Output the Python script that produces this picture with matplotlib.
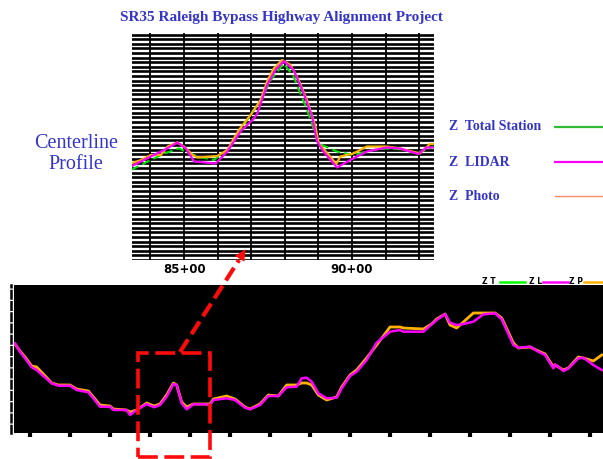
import matplotlib
matplotlib.use("Agg")
import matplotlib.pyplot as plt
from matplotlib.lines import Line2D
from matplotlib.patches import Rectangle, FancyArrowPatch
import matplotlib.transforms as mtransforms
import numpy as np

W, H = 603, 459

BLUE = "#3535c8"
GREEN = "#00dd00"
MAG = "#ff00ff"
ORANGE = "#ffb300"
SALMON = "#ff8c69"
RED = "#ff0a0a"

# --- detail profile (top chart), station in ft, elevation in ft -----------
top_st_lidar = [8342, 8401, 8441, 8480, 8505, 8530, 8594, 8629, 8668, 8708,
                8718, 8747, 8772, 8797, 8826, 8856, 8881, 8896, 8915, 8955,
                8995, 9044, 9103, 9143, 9197, 9222, 9242]
top_z_lidar = [318.7, 320.7, 322.0, 323.5, 322.3, 319.7, 319.3, 321.7, 325.7,
               328.3, 329.3, 335.0, 338.0, 339.8, 338.0, 333.3, 328.7, 323.7,
               321.7, 318.5, 320.0, 321.7, 322.5, 322.3, 321.2, 322.5, 322.5]

top_st_photo = [8342, 8372, 8401, 8431, 8451, 8480, 8500, 8525, 8540, 8599,
                8629, 8663, 8698, 8728, 8747, 8767, 8792, 8817, 8841, 8866,
                8891, 8901, 8935, 8953, 8965, 9004, 9044, 9103, 9143, 9202,
                9232, 9242]
top_z_photo = [319.3, 320.0, 321.0, 321.0, 322.7, 323.5, 322.7, 321.0, 320.5,
               320.8, 322.0, 326.0, 329.0, 332.0, 335.7, 338.3, 340.0, 339.0,
               336.0, 332.0, 326.7, 323.3, 320.7, 319.2, 320.7, 321.3, 322.7,
               322.7, 322.3, 321.3, 323.2, 323.2]

top_st_ts = [8342, 8401, 8441, 8485, 8540, 8589, 8629, 8668, 8728, 8758,
             8797, 8826, 8866, 8901, 8955, 9004, 9063, 9103, 9153, 9192, 9242]
top_z_ts = [318.0, 320.0, 321.3, 322.3, 320.7, 320.0, 322.0, 326.0, 332.0,
            336.0, 339.3, 336.7, 330.0, 323.3, 321.7, 321.0, 322.0, 322.3,
            322.1, 321.3, 322.7]

top_ticks = [8500, 9000]
top_ticklabels = ["85+00", "90+00"]

# --- full alignment profile (bottom chart) ---------------------------------
bot_st = [6812, 6875, 6938, 7021, 7083, 7167, 7271, 7354, 7500, 7583,
          7729, 7792, 7875, 8000, 8042, 8208, 8250, 8333, 8458, 8550,
          8625, 8708, 8792, 8833, 8896, 8958, 9042, 9188, 9250, 9292,
          9458, 9562, 9688, 9750, 9875, 9979, 10104, 10208, 10333, 10396,
          10458, 10521, 10604, 10708, 10833, 10896, 11000, 11083, 11208, 11333,
          11500, 11625, 11667, 11917, 12021, 12083, 12188, 12250, 12333, 12417,
          12542, 12667, 12813, 12896, 13042, 13104, 13250, 13354, 13438, 13542,
          13563, 13667, 13729, 13854, 13917, 14042, 14146]
bot_z_lidar = [379.7, 371.3, 364.7, 355.7, 353, 347, 339.7, 337.3, 337.3, 333,
               330.7, 324.7, 316.3, 316.3, 313, 313, 308, 313, 319, 315.7,
               318, 326.3, 339, 338, 319.7, 313.7, 318.7, 318.7, 318, 323,
               324.7, 323, 315.3, 313.7, 318, 327, 327, 335.7, 336.3, 344.7,
               345.3, 341.3, 329.7, 324.7, 325.3, 334.7, 347, 351.3, 363, 380.3,
               391.3, 393, 391.3, 391.3, 398.7, 403, 409, 400.3, 398, 399,
               401.3, 408.7, 409.7, 403.7, 378, 375.3, 376.3, 371.3, 368, 354.7,
               358.7, 352, 354.7, 364.7, 365.3, 358, 353]
bot_z_photo = [379, 372, 366, 357, 356, 349, 340, 338, 338, 334,
               332, 326, 318, 317, 314, 313, 311, 313, 320, 317,
               319, 328, 340, 338, 321, 316, 319, 319, 319, 324,
               327, 324, 316, 314, 319, 328, 327, 338, 338, 340,
               340, 338, 328, 323, 326, 336, 348, 353, 365, 378,
               396, 396, 395, 394, 399, 404, 409, 398, 395, 401,
               410, 410, 410, 405, 380, 375, 376, 372, 369, 356,
               358, 353, 355, 366, 365, 362, 368]
bot_ticks = list(range(7000, 14001, 500))

legend_names = ["Z  Total Station", "Z  LIDAR", "Z  Photo"]


def fx(px):
    return px / W


def fy(py):
    return 1 - py / H


fig = plt.figure(figsize=(W / 100, H / 100), dpi=100)
fig.patch.set_facecolor("white")

# --- top chart --------------------------------------------------------------
ax = fig.add_axes([fx(132), fy(260), fx(434) - fx(132), fy(33) - fy(260)])
ax.set_xlim(8345, 9244)
ax.set_ylim(300, 345.4)
for y in np.arange(300, 345.5, 0.92):
    ax.axhline(y, color="black", lw=1.9, zorder=1)
for x in range(8400, 9201, 100):
    ax.axvline(x, color="black", lw=1.3, zorder=1)
ax.plot(top_st_ts, top_z_ts, color=GREEN, lw=1.5, ls=(0, (4, 2)), zorder=3)
ax.plot(top_st_photo, top_z_photo, color=ORANGE, lw=1.6, zorder=4)
ax.plot(top_st_lidar, top_z_lidar, color=MAG, lw=1.6, zorder=5)
for s in ax.spines.values():
    s.set_visible(False)
ax.set_yticks([])
ax.set_xticks(top_ticks)
ax.set_xticklabels(top_ticklabels, fontsize=8.5, fontweight="bold")
ax.tick_params(axis="x", length=0, pad=2)

# --- bottom chart -----------------------------------------------------------
bx = fig.add_axes([fx(14), fy(433), 1 - fx(14), fy(285) - fy(433)])
bx.set_facecolor("black")
bx.set_xlim(6800, 14162)
bx.set_ylim(290, 438)
bx.plot(bot_st, bot_z_photo, color=ORANGE, lw=2.0, zorder=3)
bx.plot(bot_st, bot_z_lidar, color=MAG, lw=1.8, zorder=4)
for k in ["top", "right", "bottom"]:
    bx.spines[k].set_visible(False)
bx.spines["left"].set_position(("outward", 2))
bx.spines["left"].set_linestyle((0, (3, 1.5)))
bx.spines["left"].set_linewidth(1.8)
bx.set_yticks([])
bx.set_xticks(bot_ticks)
bx.set_xticklabels([])
bx.tick_params(axis="x", length=3, width=3, color="black", direction="out")

# dashed zoom box around the detail range
trans = mtransforms.blended_transform_factory(bx.transData, bx.transAxes)
x0, x1 = ax.get_xlim()
bx.add_patch(Rectangle((x0, -0.162), x1 - x0, 0.702, transform=trans,
                       fill=False, edgecolor=RED, lw=2.6,
                       ls=(0, (5.5, 1.8)), clip_on=False, zorder=10))

# dashed arrow from box up to detail chart
fig.add_artist(Line2D([fx(180), fx(239)], [fy(352), fy(260)], color=RED,
                      lw=3, ls=(0, (3.6, 1.5)), transform=fig.transFigure,
                      zorder=10))
fig.add_artist(FancyArrowPatch((fx(237), fy(263)), (fx(247), fy(247)),
                               arrowstyle="-|>", mutation_scale=20,
                               color=RED, lw=0, transform=fig.transFigure,
                               zorder=11))

# --- texts and legends --------------------------------------------------------
fig.text(fx(282), fy(17), "SR35 Raleigh Bypass Highway Alignment Project",
         ha="center", va="center", fontsize=11, fontweight="bold",
         family="Liberation Serif", color=BLUE)
fig.text(fx(76), fy(154), "Centerline\nProfile", ha="center", va="center",
         fontsize=14.5, family="Liberation Serif", color=BLUE)

leg_y = [127, 162, 196]
leg_col = ["#33bb33", MAG, SALMON]
leg_lw = [1.6, 1.6, 1.0]
for name, y, c, lw in zip(legend_names, leg_y, leg_col, leg_lw):
    fig.text(fx(449), fy(y), name, ha="left", va="center", fontsize=10,
             fontweight="bold", family="Liberation Serif", color=BLUE)
    fig.add_artist(Line2D([fx(555), fx(603)], [fy(y), fy(y)], color=c, lw=lw,
                          transform=fig.transFigure))

# clipped mini legend of the bottom chart
mini = [("Z T", 482, 500, 525, "#00ff00"), ("Z L", 529, 543, 568, MAG),
        ("Z P", 569, 584, 603, ORANGE)]
for lab, tx, l0, l1, c in mini:
    fig.text(fx(tx), fy(281), lab, ha="left", va="center", fontsize=5.5,
             fontweight="bold", color="black")
    fig.add_artist(Line2D([fx(l0), fx(l1)], [fy(281.5), fy(281.5)], color=c,
                          lw=1.8, transform=fig.transFigure))

fig.savefig("out.png", dpi=100)
